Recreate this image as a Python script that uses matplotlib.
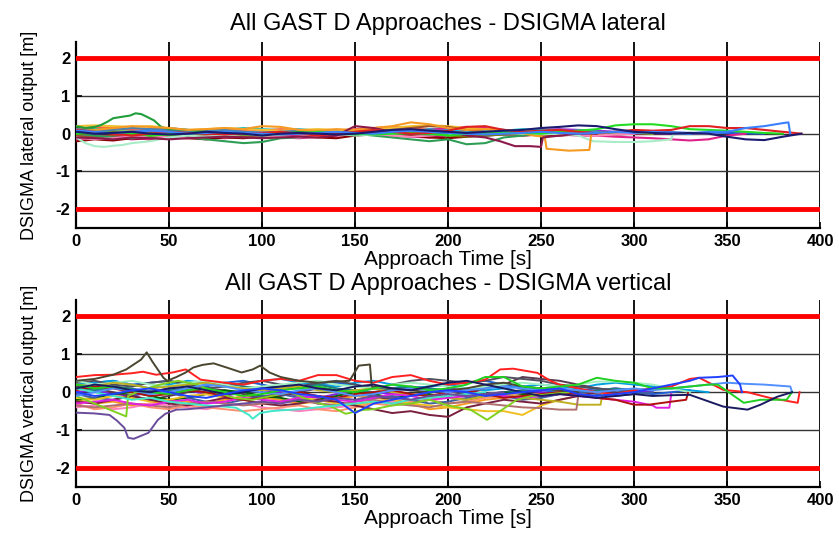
import numpy as np
import matplotlib.pyplot as plt

plt.rcParams['font.family'] = ['Liberation Sans', 'DejaVu Sans']
plt.rcParams['axes.unicode_minus'] = False

# ---------------- lateral panel (values every 10 s unless a time list is given)
lat_a = [0.18, 0.12, 0.15, 0.1, 0.12, 0.15, 0.1, 0.08, 0.05, 0.08, 0.06, 0.04, 0.06, 0.02, 0.05, 0.08, 0.1, 0.06, 0.05,
         0.08, 0.1, 0.08, 0.05, 0.06, 0.08, 0.05, 0.04, 0.05, 0.06, 0.04, 0.03, 0.05, 0.04, 0.02, 0.03, 0.02, 0.01, 0.0]
lat_b = [0.0, -0.05, -0.08, -0.1, -0.05, -0.02, 0.0, -0.05, -0.08, -0.1, -0.05, 0.0, 0.02, 0.05, 0.08, 0.05, 0.02, 0.0,
         -0.02, -0.05, -0.02, 0.0, 0.05, 0.1, 0.08, 0.1, 0.12, 0.1, 0.08, 0.05, 0.04, 0.02, 0.0, 0.01, 0.0]
lat_c = [0.1, 0.15, 0.05, 0.1, 0.05, 0.08, 0.1, 0.05, 0.1, 0.15, 0.12, 0.1, 0.05, 0.08, 0.1, 0.05, 0.02, 0.05, 0.1,
         0.12, 0.15, 0.1, 0.05, 0.08, 0.12, 0.1, 0.08, 0.05, 0.02, 0.0]
lat_d = [-0.15, -0.1, -0.05, -0.1, -0.15, -0.1, -0.08, -0.05, -0.1, -0.05, 0.0, -0.05, -0.02, 0.0, 0.05, 0.1, 0.12,
         0.08, 0.05, 0.1, 0.15, 0.18, 0.15, 0.1, 0.05, 0.0, -0.02, -0.05, -0.05, -0.08, -0.1, -0.12, -0.15, -0.18,
         -0.15, -0.05, 0.0]
lat_e = [0.05, 0.0, 0.02, 0.05, 0.0, -0.02, 0.0, 0.05, 0.02, 0.0, -0.05, 0.0, 0.02, 0.0, -0.02, 0.0, 0.05, 0.1, 0.12,
         0.08, 0.05, 0.02, 0.05, 0.08, 0.1, 0.15, 0.18, 0.22, 0.2, 0.12, 0.05, 0.02, 0.0, 0.02, 0.0, -0.08, -0.15,
         -0.17, -0.08, 0.0]
lat_f = [0.2, 0.22, 0.2, 0.18, 0.2, 0.15, 0.1, 0.12, 0.15, 0.12, 0.1, 0.08, 0.1, 0.12, 0.1, 0.08, 0.12, 0.15, 0.2,
         0.22, 0.2, 0.15, 0.12, 0.1, 0.05, 0.02, 0.0]
lat_g = [-0.05, -0.1, -0.05, 0.0, 0.05, 0.02, 0.0, -0.05, -0.1, -0.08, -0.05, 0.0, 0.05, 0.02, -0.02, 0.0, 0.05, 0.1,
         0.15, 0.2, 0.18, 0.1, 0.05, 0.0, -0.05, -0.02, 0.0, 0.02, 0.0, -0.02, 0.0]
lat_h = [0.0, -0.05, -0.1, -0.12, -0.08, -0.05, -0.1, -0.15, -0.2, -0.25, -0.22, -0.12, -0.1, -0.05, -0.02, 0.0,
         -0.05, -0.1, -0.15, -0.2, -0.15, -0.28, -0.25, -0.1, -0.05, 0.0, 0.02, 0.0, 0.02, 0.0]
lat_i = [0.05, 0.1, 0.08, 0.05, 0.0, 0.02, 0.05, 0.08, 0.05, 0.02, 0.0, 0.02, 0.05, 0.02, 0.0, -0.02, 0.0, 0.02, 0.05,
         0.08, 0.05, 0.02, 0.0, 0.05, 0.08, 0.05, 0.02, 0.0, 0.02, 0.04, 0.02, 0.0]
lat_j = [0.1, 0.05, 0.0, -0.05, 0.0, 0.05, 0.02, 0.0, -0.02, 0.0, 0.02, 0.05, 0.0, -0.05, 0.0, 0.05, 0.1, 0.05, 0.0,
         0.02, 0.08, 0.18, 0.2, 0.1, 0.05, 0.08, 0.1, 0.05, 0.02, 0.05, 0.1, 0.08, 0.1, 0.2, 0.2, 0.15, 0.15, 0.1,
         0.05, 0.0]
lat_k = [0.0, 0.05, 0.02, 0.0, -0.05, -0.02, 0.0, 0.02, 0.0, -0.02, 0.0, 0.02, 0.0, 0.05, 0.02, 0.0, -0.02, 0.0, 0.02,
         0.0, -0.05, 0.0, 0.02, 0.05, 0.02, 0.0, 0.05, 0.08, 0.12, 0.22, 0.25, 0.25, 0.2, 0.12, 0.1, 0.08, 0.05, 0.02,
         0.0]
lat_m = [-0.1, -0.15, -0.12, -0.08, -0.05, -0.1, -0.12, -0.08, -0.05, -0.02, -0.05, -0.08, -0.1, -0.05, 0.0, 0.02,
         0.0, -0.05, -0.08, -0.05, 0.0, 0.02, 0.0, -0.02, 0.0, 0.02, 0.0, -0.02, -0.05, -0.02, 0.0]
lat_n = [0.12, 0.08, 0.1, 0.15, 0.12, 0.1, 0.05, 0.08, 0.1, 0.05, 0.02, 0.05, 0.08, 0.05, 0.02, 0.0, 0.02, 0.05, 0.08,
         0.1, 0.05, 0.0, -0.05, -0.02, 0.0, 0.05, 0.08, 0.05, 0.02, 0.05, 0.08, 0.05, 0.02, 0.0]
lat_p = [0.0, 0.02, 0.05, 0.0, -0.05, -0.02, 0.0, 0.02, 0.0, -0.02, -0.05, -0.02, 0.0, 0.02, 0.0, 0.05, 0.08, 0.05,
         0.02, 0.0, -0.05, -0.08, -0.05, -0.02, 0.0, 0.02]
lat_q = [0.15, 0.1, 0.05, 0.08, 0.1, 0.05, 0.0, -0.05, 0.0, 0.05, 0.08, 0.05, 0.0, -0.02, 0.0, 0.02, 0.0, -0.05,
         -0.02, 0.0, 0.05, 0.02, 0.0, 0.02, 0.05, 0.02, 0.0]
lat_r = [-0.12, -0.08, -0.1, -0.15, -0.12, -0.08, -0.05, -0.1, -0.12, -0.08, -0.05, -0.1, -0.12, -0.08, -0.05, -0.02,
         0.0, -0.05, -0.08, -0.1, -0.05, 0.0, 0.02, -0.02, -0.05, -0.02, 0.0, 0.02, 0.0, -0.02, 0.0, 0.02, 0.0]
lat_s = [0.02, 0.08, 0.12, 0.08, 0.1, 0.05, 0.02, 0.05, 0.1, 0.08, 0.05, 0.1, 0.12, 0.08, 0.05, 0.08, 0.1, 0.05, 0.08,
         0.12, 0.1, 0.05, 0.08, 0.1, 0.05, 0.02, 0.05, 0.08, 0.05, 0.02, 0.0]
lat_u = [-0.2, -0.15, -0.18, -0.12, -0.15, -0.1, -0.12, -0.15, -0.1, -0.12, -0.08, -0.05, -0.08, -0.1, -0.12, -0.05,
         -0.02, 0.0, -0.05, -0.1, -0.12, -0.08, -0.05, -0.02, 0.0, -0.02, -0.05, -0.02, 0.0]
lat_v = [0.12, 0.18, 0.15, 0.1, 0.12, 0.08, 0.05, 0.1, 0.12, 0.1, 0.08, 0.12, 0.1, 0.05, 0.08, 0.12, 0.15, 0.18, 0.15,
         0.1, 0.05, 0.02, 0.0]
lat_l = [0.08, 0.05, 0.02, 0.05, 0.08, 0.05, 0.0, 0.02, 0.05, 0.02, 0.0, -0.02, 0.0, 0.02, 0.05, 0.02, 0.0, 0.05,
         0.08, 0.05, 0.02, 0.0, -0.02, 0.0, 0.02, 0.05, 0.02, 0.0, 0.02, 0.05, 0.02, 0.05, 0.02, 0.0, 0.05, 0.05,
         0.15, 0.2, 0.28]
lat_l_tail_t = [383, 384]
lat_l_tail_y = [0.3, 0.0]
lat_o = [-0.1, -0.12, -0.15, -0.1, -0.12, -0.15, -0.12, -0.1, -0.08, -0.1, -0.12, -0.1, -0.08, -0.1, -0.05, 0.2,
         0.15, 0.05, 0.0, 0.02, 0.05, -0.05, -0.1]
lat_o_tail_t = [228, 236, 244, 250, 251, 260, 270, 280]
lat_o_tail_y = [-0.2, -0.33, -0.33, -0.35, -0.1, -0.05, 0.0, 0.0]
lat_orange = [0.05, 0.1, 0.15, 0.2, 0.18, 0.15, 0.1, 0.12, 0.15, 0.12, 0.2, 0.18, 0.1, 0.08, 0.12, 0.1, 0.15, 0.2,
              0.3, 0.25, 0.15, 0.1, 0.12, 0.08, 0.02]
lat_orange_tail_t = [246, 252, 253, 265, 276, 277, 285]
lat_orange_tail_y = [-0.05, -0.08, -0.4, -0.45, -0.43, 0.0, 0.02]
lat_peak_t = [0, 5, 10, 13, 17, 20, 25, 29, 32, 35, 38, 42, 46, 50, 60, 70, 80, 90, 100, 110, 120, 130, 140, 150,
              160, 170, 180, 190, 200]
lat_peak_y = [0.2, 0.15, 0.18, 0.22, 0.32, 0.41, 0.45, 0.48, 0.54, 0.52, 0.45, 0.35, 0.17, 0.12, 0.1, 0.05, 0.02, 0.0,
              -0.02, 0.0, 0.05, 0.02, 0.0, -0.02, 0.0, 0.02, 0.0, -0.02, 0.0]
lat_mint_t = [0, 5, 10, 15, 20, 25, 30, 40, 50, 60, 70, 80, 90, 100, 110, 120, 130, 140, 150, 160, 170, 180, 190,
              200, 210, 220, 230, 240, 250, 260, 270, 278, 290, 300, 310, 320, 321, 330, 340]
lat_mint_y = [-0.1, -0.25, -0.33, -0.35, -0.32, -0.3, -0.25, -0.2, -0.1, -0.05, -0.08, -0.05, 0.0, -0.05, -0.02,
              0.0, 0.02, 0.0, -0.05, -0.02, 0.0, 0.02, 0.0, -0.02, 0.0, 0.05, 0.02, 0.0, -0.02, 0.0, -0.05, -0.2,
              -0.22, -0.22, -0.2, -0.15, 0.0, 0.02, 0.0]

# ---------------- vertical panel
ver_a = [0.3, 0.25, 0.3, 0.2, 0.25, 0.3, 0.2, 0.15, 0.25, 0.3, 0.2, 0.1, 0.15, 0.2, 0.25, 0.2, 0.1, 0.05, 0.1, 0.15,
         0.2, 0.25, 0.3, 0.2, 0.1, 0.05, 0.0, 0.05, 0.1, 0.05, 0.0, -0.05, 0.0, 0.05]
ver_c = [-0.2, -0.3, -0.25, -0.35, -0.3, -0.2, -0.25, -0.3, -0.2, -0.1, -0.15, -0.2, -0.3, -0.25, -0.2, -0.1, -0.15,
         -0.2, -0.3, -0.45, -0.4, -0.3, -0.2, -0.15, -0.1, -0.05, 0.0]
ver_n = [0.2, 0.25, 0.3, 0.2, 0.1, 0.2, 0.3, 0.25, 0.15, 0.2, 0.3, 0.35, 0.25, 0.2, 0.15, 0.25, 0.3, 0.2, 0.1, 0.15,
         0.2, 0.1, 0.05, 0.1, 0.15, 0.2, 0.15, 0.1, 0.2, 0.25, 0.2, 0.15, 0.1, 0.05, 0.0]
ver_o = [0.0, 0.05, -0.05, -0.1, 0.0, 0.1, 0.05, -0.05, -0.1, 0.0, 0.05, 0.0, -0.1, -0.15, -0.05, 0.05, 0.0, -0.05,
         -0.1, 0.0, 0.1, 0.05, -0.05, 0.0, 0.05, 0.0, -0.05, 0.0, 0.05, 0.1, 0.05, 0.0]
ver_p = [0.15, 0.1, 0.0, -0.1, -0.2, -0.1, 0.0, 0.1, 0.05, -0.05, -0.15, -0.1, 0.0, 0.1, 0.05, 0.0, -0.1, -0.2, -0.3,
         -0.2, -0.1, 0.0, 0.1, 0.2, 0.4, 0.35, 0.3, 0.2, 0.1, 0.0]
ver_q = [-0.4, -0.35, -0.45, -0.4, -0.3, -0.35, -0.4, -0.45, -0.35, -0.3, -0.4, -0.45, -0.5, -0.45, -0.4, -0.35,
         -0.3, -0.25, -0.3, -0.2, -0.15, -0.1, -0.05, 0.0]
ver_r = [0.1, 0.05, 0.15, 0.1, 0.0, 0.05, 0.1, 0.2, 0.25, 0.15, 0.1, 0.05, 0.15, 0.2, 0.1, 0.05, 0.0, 0.1, 0.15, 0.1,
         0.05, 0.0, -0.05, 0.0, 0.05, 0.1, 0.05, 0.0, 0.05, 0.1, 0.05]
ver_s = [-0.2, -0.15, -0.05, 0.0, -0.1, -0.2, -0.15, -0.05, 0.05, 0.0, -0.1, -0.15, -0.25, -0.2, -0.1, 0.0, -0.05,
         -0.15, -0.1, -0.05, -0.15, -0.2, -0.1, 0.0, -0.05, -0.1, -0.05, 0.0]
ver_t = [-0.3, -0.45, -0.4, -0.3, -0.4, -0.45, -0.35, -0.4, -0.45, -0.5, -0.45, -0.4, -0.35, -0.45, -0.5, -0.4, -0.3,
         -0.35, -0.25, -0.2, -0.3, -0.25, -0.15, -0.1, 0.0]
ver_u = [0.25, 0.3, 0.2, 0.15, 0.25, 0.3, 0.2, 0.1, 0.15, 0.25, 0.3, 0.2, 0.15, 0.25, 0.3, 0.2, 0.1, 0.2, 0.3, 0.35,
         0.3, 0.25, 0.3, 0.4, 0.35, 0.3, 0.2, 0.15, 0.1, 0.05, 0.0]
ver_w = [0.3, 0.2, 0.25, 0.3, 0.2, 0.15, 0.25, 0.3, 0.2, 0.1, 0.15, 0.2, 0.25, 0.3, 0.2, 0.15, 0.1, 0.2, 0.25, 0.2,
         0.15, 0.1, 0.15, 0.2, 0.25, 0.2, 0.15, 0.2, 0.28, 0.28, 0.25, 0.2, 0.1, 0.0]
ver_x = [-0.05, -0.15, -0.2, -0.1, 0.05, 0.0, -0.15, -0.25, -0.3, -0.2, -0.1, -0.05, -0.15, -0.3, -0.35, -0.25,
         -0.15, -0.1, -0.2, -0.3, -0.25, -0.15, -0.05, -0.1, -0.2, -0.15, -0.05, 0.0, -0.05, -0.1, -0.05, 0.0]
ver_l = [-0.15, -0.2, -0.1, -0.15, -0.25, -0.2, -0.1, -0.05, -0.15, -0.2, -0.3, -0.25, -0.15, -0.2, -0.3, -0.35,
         -0.25, -0.2, -0.3, -0.35, -0.4, -0.45, -0.5, -0.5, -0.6, -0.35, -0.2, -0.1, 0.0]
ver_m = [-0.25, -0.3, -0.2, -0.1, -0.2, -0.3, -0.35, -0.25, -0.15, -0.2, -0.3, -0.35, -0.3, -0.2, -0.25, -0.35,
         -0.45, -0.55, -0.5, -0.6, -0.65, -0.4, -0.3, -0.2, -0.25, -0.3, -0.2, -0.1, 0.0]
ver_g = [-0.1, 0.0, 0.1, 0.05, -0.05, 0.0, 0.1, 0.2, 0.15, 0.05, 0.0, -0.05, 0.05, 0.1, 0.0, -0.1, -0.05, 0.05, 0.1,
         0.05, 0.0, 0.05, 0.1, 0.15, 0.1, 0.05, 0.1, 0.05, 0.0, 0.05, 0.1, 0.05, 0.1, 0.15, 0.2, 0.25, 0.22, 0.2]
ver_g_tail_t = [384, 385]
ver_g_tail_y = [0.15, 0.0]
ver_f = [0.0, -0.1, -0.05, 0.05, 0.1, 0.0, -0.1, -0.15, -0.05, 0.05, 0.1, 0.05, -0.05, -0.1, -0.2, -0.55, -0.3,
         -0.2, -0.1, 0.0, 0.05, 0.0, -0.1, -0.05, 0.0, 0.05, 0.1, -0.05, -0.1, -0.05, 0.0, 0.1, 0.2, 0.3]
ver_f_tail_t = [335, 345, 353, 357, 358]
ver_f_tail_y = [0.38, 0.4, 0.44, 0.2, 0.0]
ver_d = [0.1, 0.2, 0.15, 0.05, 0.0, 0.1, 0.15, 0.05, -0.05, 0.0, 0.1, 0.15, 0.2, 0.1, 0.05, 0.15, 0.2, 0.1, 0.05,
         0.15, 0.25, 0.3, 0.2, 0.1, 0.0, -0.1, -0.05, -0.1, -0.15, -0.1, -0.05, -0.1, -0.08, -0.07]
ver_d_tail_t = [348, 361, 368, 377, 385]
ver_d_tail_y = [-0.38, -0.46, -0.33, -0.12, 0.0]
ver_e = [0.2, 0.1, 0.15, 0.05, 0.0, -0.05, 0.05, 0.1, 0.0, -0.1, -0.05, 0.05, 0.1, 0.15, 0.05, 0.0, 0.1, 0.2, 0.15,
         0.05, 0.1, 0.2, 0.4, 0.4, 0.15, 0.1, 0.15, 0.2, 0.38, 0.3, 0.25, 0.1, 0.1, 0.15, 0.2]
ver_e_tail_t = [345, 359, 368, 382, 385]
ver_e_tail_y = [0.2, -0.28, -0.2, -0.2, 0.0]
ver_h = [-0.3, -0.25, -0.2, -0.3, -0.35, -0.25, -0.2, -0.3, -0.25, -0.15, -0.2, -0.25, -0.15, -0.1, -0.2, -0.25,
         -0.15, -0.05, -0.1, -0.2, -0.15, -0.1, -0.05, -0.1, -0.15, -0.1, -0.05, -0.1, -0.15, -0.2, -0.25, -0.35]
ver_h_tail_t = [312, 319, 320]
ver_h_tail_y = [-0.41, -0.41, -0.05]
ver_i = [0.05, 0.15, 0.1, 0.0, -0.1, -0.05, 0.05, 0.0, -0.1, -0.2, -0.15, -0.05, 0.0, -0.1, -0.15, -0.05, 0.0, 0.05,
         -0.05, -0.1, 0.0, 0.05, -0.05, -0.15, -0.1, -0.05, 0.0, -0.05, -0.15, -0.2, -0.33]
ver_i_tail_t = [308, 320, 328, 329]
ver_i_tail_y = [-0.33, -0.25, -0.2, -0.02]
ver_j = [0.2, 0.15, 0.25, 0.2, 0.1, 0.15, 0.2, 0.25, 0.15, 0.1, 0.05, 0.1, 0.15, 0.05, 0.0, 0.05, 0.1, 0.0, -0.05,
         -0.1, -0.15, -0.2, -0.1, -0.05, -0.15, -0.2, -0.25, -0.33]
ver_j_tail_t = [282, 283]
ver_j_tail_y = [-0.33, -0.05]
ver_k = [-0.35, -0.4, -0.35, -0.3, -0.35, -0.4, -0.3, -0.25, -0.3, -0.35, -0.3, -0.25, -0.2, -0.3, -0.35, -0.25,
         -0.2, -0.3, -0.35, -0.4, -0.3, -0.25, -0.3, -0.35, -0.4, -0.42, -0.46]
ver_k_tail_t = [269, 270]
ver_k_tail_y = [-0.46, -0.1]
ver_red_t = [0, 10, 20, 30, 36, 43, 52, 59, 67, 80, 90, 100, 110, 120, 130, 140, 150, 160, 170, 180, 190, 200, 210,
             220, 228, 235, 248, 255, 260, 270, 280, 290, 300, 310, 320, 330, 335, 348, 361, 373, 388, 389]
ver_red_y = [0.4, 0.45, 0.46, 0.5, 0.54, 0.46, 0.52, 0.6, 0.33, 0.25, 0.2, 0.3, 0.35, 0.3, 0.45, 0.45, 0.3, 0.25,
             0.4, 0.45, 0.3, 0.2, 0.25, 0.33, 0.6, 0.62, 0.51, 0.3, 0.2, 0.1, 0.0, -0.05, 0.05, 0.1, 0.15, 0.35,
             0.38, 0.06, 0.0, -0.15, -0.28, 0.0]
ver_olive_t = [0, 10, 20, 27, 35, 38, 41, 47, 49, 54, 59, 63, 68, 74, 81, 89, 95, 99, 104, 110, 120, 130, 140, 147,
               152, 158, 159, 170, 180, 190, 200, 210, 220, 230, 240, 250, 260, 270]
ver_olive_y = [0.3, 0.35, 0.46, 0.6, 0.86, 1.05, 0.81, 0.38, 0.3, 0.4, 0.52, 0.65, 0.72, 0.76, 0.65, 0.52, 0.6, 0.7,
               0.52, 0.4, 0.3, 0.25, 0.28, 0.3, 0.7, 0.73, 0.15, 0.1, 0.05, 0.0, 0.05, 0.1, 0.2, 0.25, 0.15, 0.1,
               0.05, 0.0]
ver_purple_t = [0, 10, 18, 22, 26, 28, 31, 35, 39, 44, 48, 54, 60, 70, 80, 90, 100, 110, 120, 130, 140, 150, 160,
                170, 180, 190, 200, 210, 220, 230]
ver_purple_y = [-0.54, -0.56, -0.6, -0.75, -0.94, -1.2, -1.23, -1.15, -1.07, -0.73, -0.57, -0.46, -0.45, -0.4,
                -0.35, -0.3, -0.25, -0.3, -0.2, -0.25, -0.15, -0.2, -0.1, -0.15, -0.2, -0.1, -0.05, -0.1, -0.05, 0.0]
ver_cyan_t = [0, 10, 20, 30, 40, 50, 60, 70, 80, 86, 93, 95, 99, 105, 110, 120, 130, 140, 150, 160, 170, 180, 190,
              200, 210, 220]
ver_cyan_y = [0.1, 0.0, -0.1, -0.2, -0.15, -0.25, -0.3, -0.35, -0.38, -0.41, -0.6, -0.7, -0.55, -0.5, -0.48, -0.45,
              -0.4, -0.35, -0.3, -0.25, -0.3, -0.2, -0.15, -0.1, -0.05, 0.0]
ver_lime_t = [0, 10, 18, 27, 28, 35, 45, 55, 65, 75, 85, 95, 105, 115, 125, 138, 145, 154, 160, 170, 180, 190, 200,
              212, 221, 237, 245, 255, 265]
ver_lime_y = [-0.1, -0.3, -0.46, -0.64, -0.1, 0.05, 0.2, 0.3, 0.2, 0.0, -0.15, -0.2, -0.1, 0.0, -0.2, -0.4, -0.57,
              -0.47, -0.45, -0.35, -0.3, -0.2, -0.35, -0.46, -0.73, -0.2, -0.1, -0.05, 0.0]

limit = 2.0
xticks = [0, 50, 100, 150, 200, 250, 300, 350, 400]
yticks = [-2, -1, 0, 1, 2]


def grid_t(y):
    return np.arange(len(y)) * 10


def with_tail(y, tail_t, tail_y):
    return np.r_[grid_t(y), tail_t], np.r_[y, tail_y]


lat_series = [
    (grid_t(lat_a), lat_a, '#1f5fd6'),
    (grid_t(lat_b), lat_b, '#9b30d0'),
    (grid_t(lat_c), lat_c, '#20c0c0'),
    (grid_t(lat_q), lat_q, '#006400'),
    (grid_t(lat_r), lat_r, '#c71585'),
    (grid_t(lat_s), lat_s, '#00bfff'),
    (grid_t(lat_u), lat_u, '#8b0000'),
    (grid_t(lat_v), lat_v, '#ff6347'),
    (grid_t(lat_d), lat_d, '#e0208a'),
    (grid_t(lat_f), lat_f, '#f0c030'),
    (grid_t(lat_g), lat_g, '#a0522d'),
    (grid_t(lat_h), lat_h, '#2e9e57'),
    (grid_t(lat_i), lat_i, '#9acd32'),
    (grid_t(lat_m), lat_m, '#ff88bb'),
    (grid_t(lat_n), lat_n, '#4682b4'),
    (grid_t(lat_p), lat_p, '#7a7a00'),
    (lat_mint_t, lat_mint_y, '#a8ecc8'),
    (lat_peak_t, lat_peak_y, '#1f9e3a'),
    (*with_tail(lat_orange, lat_orange_tail_t, lat_orange_tail_y), '#f59a23'),
    (*with_tail(lat_o, lat_o_tail_t, lat_o_tail_y), '#8b1a4a'),
    (grid_t(lat_k), lat_k, '#22dd22'),
    (grid_t(lat_j), lat_j, '#e02020'),
    (*with_tail(lat_l, lat_l_tail_t, lat_l_tail_y), '#3a80ff'),
    (grid_t(lat_e), lat_e, '#1a1a70'),
]

ver_series = [
    (grid_t(ver_a), ver_a, '#1f5fd6'),
    (grid_t(ver_c), ver_c, '#f59a23'),
    (grid_t(ver_n), ver_n, '#00a0e0'),
    (grid_t(ver_o), ver_o, '#8020e0'),
    (grid_t(ver_p), ver_p, '#5a3a50'),
    (grid_t(ver_q), ver_q, '#ff80c0'),
    (grid_t(ver_r), ver_r, '#208080'),
    (grid_t(ver_s), ver_s, '#006400'),
    (grid_t(ver_t), ver_t, '#ff9070'),
    (grid_t(ver_u), ver_u, '#505060'),
    (grid_t(ver_w), ver_w, '#a0f0c0'),
    (grid_t(ver_x), ver_x, '#4060a0'),
    (grid_t(ver_l), ver_l, '#f0c020'),
    (grid_t(ver_m), ver_m, '#7a2040'),
    (*with_tail(ver_j, ver_j_tail_t, ver_j_tail_y), '#c0b020'),
    (*with_tail(ver_k, ver_k_tail_t, ver_k_tail_y), '#b07070'),
    (*with_tail(ver_h, ver_h_tail_t, ver_h_tail_y), '#e020e0'),
    (*with_tail(ver_i, ver_i_tail_t, ver_i_tail_y), '#b01010'),
    (ver_lime_t, ver_lime_y, '#80d020'),
    (ver_cyan_t, ver_cyan_y, '#40e8c8'),
    (ver_purple_t, ver_purple_y, '#6a4c9c'),
    (ver_red_t, ver_red_y, '#ff2020'),
    (ver_olive_t, ver_olive_y, '#4a4630'),
    (*with_tail(ver_g, ver_g_tail_t, ver_g_tail_y), '#5090ff'),
    (*with_tail(ver_e, ver_e_tail_t, ver_e_tail_y), '#20d020'),
    (*with_tail(ver_d, ver_d_tail_t, ver_d_tail_y), '#1a1a60'),
    (*with_tail(ver_f, ver_f_tail_t, ver_f_tail_y), '#2040ff'),
]


def style_axis(ax, title, ylabel, title_pad):
    ax.set_xlim(0, 400)
    ax.set_ylim(-2.5, 2.43)
    ax.set_xticks(xticks)
    ax.set_yticks(yticks)
    for x in xticks[1:]:
        ax.axvline(x, color='black', lw=1.3, zorder=1)
    for y in yticks:
        ax.axhline(y, color='#333333', lw=1.0, zorder=1)
    ax.axhline(limit, color='red', lw=3.5, zorder=5)
    ax.axhline(-limit, color='red', lw=3.5, zorder=5)
    for side in ['top', 'right']:
        ax.spines[side].set_visible(False)
    for side in ['left', 'bottom']:
        ax.spines[side].set_linewidth(1.6)
    ax.tick_params(direction='in', length=4, width=1.2, labelsize=12, pad=4)
    for lab in ax.get_xticklabels() + ax.get_yticklabels():
        lab.set_fontweight('bold')
    ax.set_title(title, fontsize=17, pad=title_pad)
    ax.set_xlabel('Approach Time [s]', fontsize=15, labelpad=1)
    ax.set_ylabel(ylabel, fontsize=13, labelpad=13)


fig = plt.figure(figsize=(8.39, 5.33), dpi=100)
ax1 = fig.add_axes([0.0906, 0.5722, 0.8868, 0.349])
ax2 = fig.add_axes([0.0906, 0.0863, 0.8868, 0.3508])

for t, y, c in lat_series:
    ax1.plot(t, y, color=c, lw=1.5, zorder=3)
for t, y, c in ver_series:
    ax2.plot(t, y, color=c, lw=1.4, zorder=3)

style_axis(ax1, 'All GAST D Approaches - DSIGMA lateral', 'DSIGMA lateral output [m]', 9)
style_axis(ax2, 'All GAST D Approaches - DSIGMA vertical', 'DSIGMA vertical output [m]', 7)

fig.savefig('out.png', dpi=100)
